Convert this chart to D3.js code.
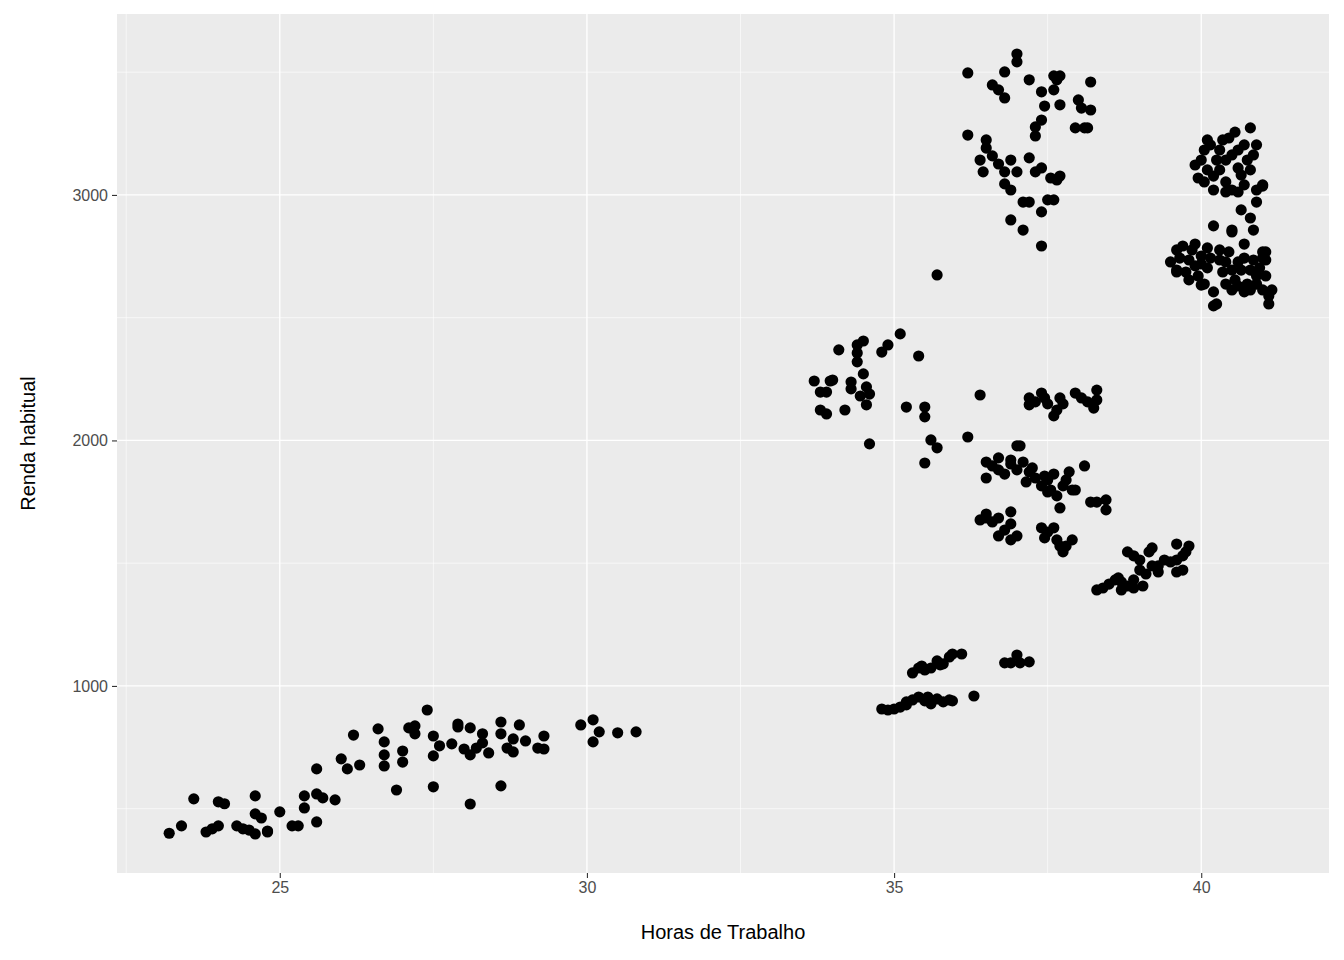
<!DOCTYPE html>
<html>
<head>
<meta charset="utf-8">
<script src="https://cdn.jsdelivr.net/npm/d3@7"></script>
<style>
  body { margin: 0; background: #fff; }
  text { font-family: "Liberation Sans", Arial, sans-serif; }
</style>
</head>
<body>
<svg id="chart" width="1344" height="960"></svg>
<script>
// observations: [horas, renda]
var grupoParcial = [
  [23.2,400],[23.4,430],[23.6,540],[23.8,405],[23.9,418],[24.0,430],[24.0,528],[24.1,520],
  [24.3,430],[24.4,418],[24.5,413],[24.6,552],[24.6,479],[24.6,397],[24.7,462],[24.8,409],
  [24.8,405],[25.0,487],[25.2,430],[25.3,430],[25.4,503],[25.4,552],[25.6,446],[25.6,662],
  [25.6,560],[25.7,544],[25.9,536],[26.0,703],[26.1,662],[26.2,800],[26.3,678],[26.7,772],
  [26.6,825],[26.7,674],[26.7,719],[26.9,576],[27.0,735],[27.0,690],[27.1,829],[27.2,805],
  [27.2,837],[27.4,902],[27.5,589],[27.5,796],[27.5,715],[27.6,756],[27.8,764],[27.9,845],
  [27.9,833],[28.0,743],[28.1,519],[28.1,829],[28.1,719],[28.2,747],[28.3,768],[28.3,805],
  [28.4,727],[28.6,805],[28.6,853],[28.6,593],[28.7,747],[28.8,784],[28.8,731],[28.9,841],
  [29.0,776],[29.2,747],[29.3,796],[29.3,743],[29.9,841],[30.1,862],[30.1,772],[30.2,813],
  [30.5,809],[30.8,813]
];

var grupoMedio = [
  [34.8,906],[34.9,902],[35.0,906],[35.1,914],[35.2,923],[35.2,935],[35.3,943],[35.4,955],
  [35.5,939],[35.55,955],[35.6,927],[35.7,947],[35.8,935],[35.9,943],[35.95,939],
  [35.3,1053],[35.4,1073],[35.45,1081],[35.5,1065],[35.6,1073],[35.7,1102],[35.75,1086],
  [35.8,1090],[35.9,1118],[35.95,1130],[36.1,1130],[36.3,959],[36.8,1094],[37.0,1126],
  [37.05,1094],[37.2,1098],[36.9,1094],
  [33.7,2242],[33.8,2197],[33.9,2197],[33.96,2242],[34.1,2369],[34.2,2124],[34.3,2210],
  [34.4,2320],[34.4,2389],[34.4,2356],[34.5,2405],[34.45,2181],[34.55,2145],[34.6,2189],
  [34.6,1986],[34.5,2271],[34.55,2218],[34.8,2360],[34.9,2389],[35.1,2434],[35.2,2136],
  [35.4,2344],[35.5,2136],[35.5,2096],[35.5,1908],[35.6,2002],[35.7,1970],[35.7,2674],
  [33.8,2124],[33.9,2108],[34.0,2246],[34.3,2238],
  [36.2,2014],[36.4,2185],[37.2,2145],[37.2,2173],[37.3,2157],[37.4,2193],[37.45,2173],
  [37.5,2149],[37.6,2100],[37.65,2124],[37.7,2173],[37.75,2149],[37.95,2193],[38.05,2173],
  [38.15,2157],[38.25,2132],[38.3,2205],[38.3,2165]
];

var grupoIntegral = [
  [36.5,1847],[36.5,1912],[36.6,1896],[36.7,1929],[36.7,1880],[36.8,1863],[36.9,1904],
  [36.9,1920],[37.0,1978],[37.0,1880],[37.05,1978],[37.1,1912],[37.15,1831],[37.2,1872],
  [37.25,1888],[37.3,1847],[37.4,1815],[37.45,1855],[37.5,1790],[37.5,1839],[37.55,1798],
  [37.6,1863],[37.65,1774],[37.7,1725],[37.75,1815],[37.8,1839],[37.85,1872],[37.9,1798],
  [37.95,1798],[38.1,1896],[38.2,1749],[38.3,1749],[38.45,1758],[38.45,1717],
  [36.5,1684],[36.4,1676],[36.5,1700],[36.6,1668],[36.7,1684],[36.7,1611],[36.8,1635],
  [36.9,1709],[36.9,1660],[36.9,1595],[37.0,1611],[37.4,1644],[37.45,1603],[37.5,1627],
  [37.6,1644],[37.65,1595],[37.7,1570],[37.75,1546],[37.8,1570],[37.9,1595],
  [38.3,1391],[38.4,1399],[38.5,1415],[38.6,1432],[38.65,1440],[38.7,1424],[38.8,1546],
  [38.8,1407],[38.9,1432],[38.9,1530],[39.0,1472],[39.0,1513],[39.05,1407],[39.1,1456],
  [39.15,1546],[39.2,1489],[39.2,1562],[39.3,1464],[39.3,1489],[39.4,1513],[39.5,1505],
  [39.6,1578],[39.6,1513],[39.7,1530],[39.75,1546],[39.8,1570],[39.7,1472],[39.6,1464],
  [38.7,1391],[38.9,1399]
];

var grupoAlto = [
  [36.2,3497],[36.8,3501],[37.0,3574],[37.0,3542],[36.6,3448],[36.7,3428],[36.8,3395],
  [37.2,3469],[37.4,3420],[37.6,3428],[37.6,3485],[37.7,3485],[37.45,3362],[37.4,3305],
  [37.3,3277],[37.3,3240],[37.65,3469],[37.7,3367],[38.0,3387],[38.05,3354],[38.2,3346],
  [38.2,3460],[37.95,3273],[38.1,3273],[38.15,3273],
  [36.2,3244],[36.5,3224],[36.4,3142],[36.45,3094],[36.5,3191],[36.6,3159],[36.7,3126],
  [36.8,3094],[36.8,3045],[36.9,3142],[36.9,3020],[37.0,3094],[37.1,2971],[37.2,3151],
  [37.3,3094],[37.4,3110],[37.5,2980],[37.55,3069],[37.65,3061],[37.7,3077],[37.2,2971],
  [37.4,2931],[36.9,2898],[37.1,2857],[37.4,2792],[37.6,2980],
  [39.9,3122],[40.0,3142],[40.05,3183],[40.1,3102],[40.15,3204],[40.2,3077],[40.25,3142],
  [40.3,3183],[40.3,3102],[40.35,3224],[40.4,3053],[40.4,3142],[40.45,3232],[40.5,3163],
  [40.5,3020],[40.55,3256],[40.6,3110],[40.6,3183],[40.65,3081],[40.7,3204],[40.7,3041],
  [40.75,3142],[40.8,3273],[40.8,3102],[40.85,3163],[40.9,3020],[40.9,3204],[41.0,3041],
  [41.0,3036],[40.9,2971],[40.8,2906],[40.85,2857],[40.5,2857],[40.7,2800],[39.95,3069],
  [40.05,3053],[40.2,3020],[40.4,3012],[40.6,3012],[40.1,3224],[40.65,2939],
  [39.5,2727],[39.6,2776],[39.6,2694],[39.65,2743],[39.7,2792],[39.75,2686],[39.8,2735],
  [39.8,2654],[39.85,2776],[39.9,2711],[39.9,2800],[39.95,2670],[40.0,2751],[40.0,2719],
  [40.05,2637],[40.1,2784],[40.1,2703],[40.15,2743],[40.2,2548],[40.2,2605],[40.25,2556],
  [40.3,2735],[40.3,2776],[40.35,2686],[40.4,2637],[40.4,2727],[40.45,2768],[40.5,2694],
  [40.5,2613],[40.55,2654],[40.6,2727],[40.6,2629],[40.65,2694],[40.7,2605],[40.7,2743],
  [40.75,2637],[40.8,2694],[40.8,2613],[40.85,2735],[40.9,2670],[40.9,2637],[40.95,2703],
  [41.0,2613],[41.0,2768],[41.05,2670],[41.05,2735],[41.1,2556],[41.1,2588],[41.15,2613],
  [40.2,2874],[40.5,2849],[39.6,2686],[40.0,2633],[41.0,2743],[41.05,2768]
];

var xTicks = [25, 30, 35, 40];
var xMinor = [22.5, 27.5, 32.5, 37.5];
var yTicks = [1000, 2000, 3000];
var yMinor = [500, 1500, 2500, 3500];

var pontos = grupoParcial.concat(grupoMedio, grupoIntegral, grupoAlto);

var svg = d3.select('#chart'),
    margin = {left: 117, right: 15, top: 14, bottom: 87},
    width = 1344 - margin.left - margin.right,
    height = 960 - margin.top - margin.bottom;

var x = d3.scaleLinear().domain([22.35, 42.08]).range([0, width]);
var y = d3.scaleLinear().domain([238, 3737]).range([height, 0]);

var g = svg.append('g').attr('transform', 'translate(' + margin.left + ',' + margin.top + ')');

g.append('rect').attr('width', width).attr('height', height).attr('fill', '#EBEBEB');

// grid
g.selectAll('.xminor').data(xMinor).enter().append('line')
  .attr('x1', x).attr('x2', x).attr('y1', 0).attr('y2', height)
  .attr('stroke', '#fff').attr('stroke-width', 0.6);
g.selectAll('.yminor').data(yMinor).enter().append('line')
  .attr('y1', y).attr('y2', y).attr('x1', 0).attr('x2', width)
  .attr('stroke', '#fff').attr('stroke-width', 0.6);
g.selectAll('.xmajor').data(xTicks).enter().append('line')
  .attr('x1', x).attr('x2', x).attr('y1', 0).attr('y2', height)
  .attr('stroke', '#fff').attr('stroke-width', 1.3);
g.selectAll('.ymajor').data(yTicks).enter().append('line')
  .attr('y1', y).attr('y2', y).attr('x1', 0).attr('x2', width)
  .attr('stroke', '#fff').attr('stroke-width', 1.3);

// axes
var xAxis = g.append('g').attr('transform', 'translate(0,' + height + ')')
  .call(d3.axisBottom(x).tickValues(xTicks).tickSize(5).tickPadding(4).tickFormat(d3.format('d')));
var yAxis = g.append('g')
  .call(d3.axisLeft(y).tickValues(yTicks).tickSize(5).tickPadding(4).tickFormat(d3.format('d')));
[xAxis, yAxis].forEach(function(a) {
  a.select('.domain').remove();
  a.selectAll('line').attr('stroke', '#333').attr('stroke-width', 1.1);
  a.selectAll('text').attr('fill', '#4D4D4D').style('font-size', '16px');
});

// points
g.selectAll('circle').data(pontos).enter().append('circle')
  .attr('cx', function(d) { return x(d[0]); })
  .attr('cy', function(d) { return y(d[1]); })
  .attr('r', 5.6)
  .attr('fill', '#000');

// titles
svg.append('text').attr('x', margin.left + width / 2).attr('y', 939)
  .attr('text-anchor', 'middle').style('font-size', '20px').attr('fill', '#000')
  .text('Horas de Trabalho');
svg.append('text')
  .attr('transform', 'translate(35,' + (margin.top + height / 2) + ') rotate(-90)')
  .attr('text-anchor', 'middle').style('font-size', '20px').attr('fill', '#000')
  .text('Renda habitual');
</script>
</body>
</html>
